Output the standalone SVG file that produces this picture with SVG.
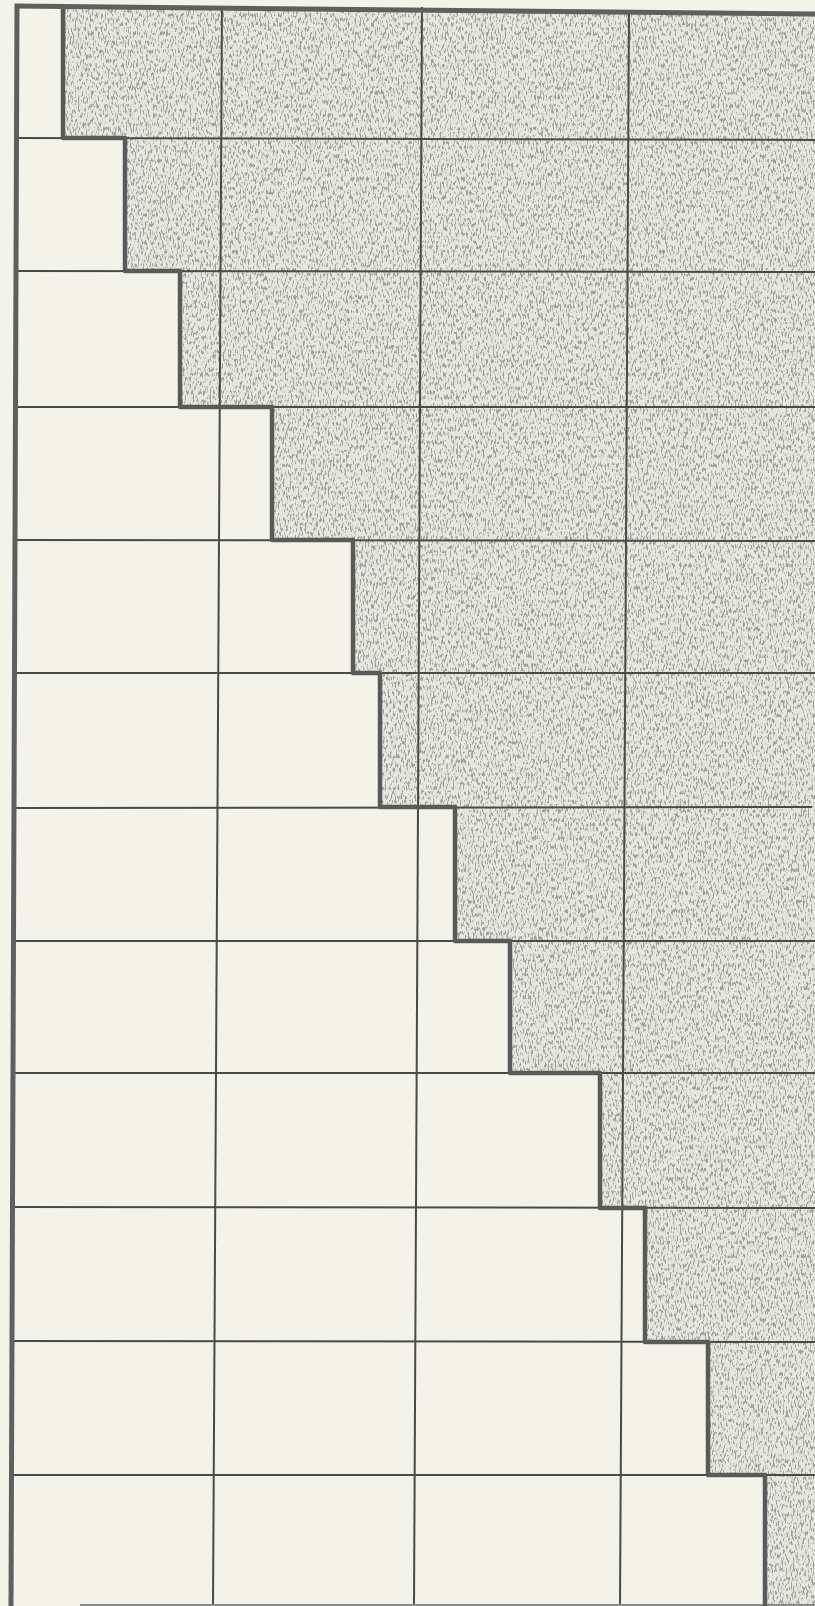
<svg xmlns="http://www.w3.org/2000/svg" width="815" height="1606" viewBox="0 0 815 1606">
  <defs>
    <style>
      .grid { stroke: #4a4a48; stroke-width: 2; fill: none; }
      .heavy { stroke: #5a5a58; stroke-width: 4.5; fill: none; stroke-linejoin: round; }
      .border { stroke: #5f5f5d; stroke-width: 5; fill: none; }
    </style>
    <filter id="speck" x="0" y="0" width="100%" height="100%" filterUnits="userSpaceOnUse">
      <feTurbulence type="fractalNoise" baseFrequency="0.6 0.22" numOctaves="2" seed="7" result="n"/>
      <feColorMatrix in="n" type="matrix" values="0 0 0 0 0.35  0 0 0 0 0.35  0 0 0 0 0.33  7 0 0 0 -3.6"/>
    </filter>
    <clipPath id="shadeClip">
      <path d="M63,6 V138 H125 V271 H180 V407 H272 V540 H353 V673 H380 V807 H455 V941 H510 V1073 H600 V1208 H645 V1342 H708 V1475 H765 V1606 H815 V15 Z"/>
    </clipPath>
  </defs>
  <rect width="815" height="1606" fill="#f4f3ea"/>

  <g id="shaded-region">
    <path d="M63,6 V138 H125 V271 H180 V407 H272 V540 H353 V673 H380 V807 H455 V941 H510 V1073 H600 V1208 H645 V1342 H708 V1475 H765 V1606 H815 V15 Z" fill="#e8e7df"/>
    <g clip-path="url(#shadeClip)">
      <rect x="0" y="0" width="815" height="1606" filter="url(#speck)"/>
    </g>
  </g>

  <g id="grid">
    <line class="grid" x1="17" y1="138" x2="815" y2="140"/>
    <line class="grid" x1="17" y1="271" x2="815" y2="272"/>
    <line class="grid" x1="16" y1="407" x2="815" y2="407"/>
    <line class="grid" x1="16" y1="540" x2="815" y2="541"/>
    <line class="grid" x1="15" y1="673" x2="815" y2="673"/>
    <line class="grid" x1="15" y1="808" x2="812" y2="807"/>
    <line class="grid" x1="14" y1="941" x2="815" y2="941"/>
    <line class="grid" x1="14" y1="1073" x2="815" y2="1073"/>
    <line class="grid" x1="13" y1="1207" x2="815" y2="1208"/>
    <line class="grid" x1="12" y1="1341" x2="815" y2="1342"/>
    <line class="grid" x1="12" y1="1475" x2="815" y2="1475"/>
    <line class="grid" x1="222" y1="6" x2="213" y2="1606"/>
    <line class="grid" x1="422" y1="7" x2="414" y2="1606"/>
    <line class="grid" x1="629" y1="10" x2="620" y2="1606"/>
    <line x1="80" y1="1605" x2="815" y2="1605" stroke="#8a8a86" stroke-width="2"/>
  </g>

  <g id="stair-boundary">
    <path class="heavy" d="M63,6 V138 H125 V271 H180 V407 H272 V540 H353 V673 H380 V807 H455 V941 H510 V1073 H600 V1208 H645 V1342 H708 V1475 H765 V1606"/>
  </g>

  <g id="frame">
    <line class="border" x1="15" y1="6" x2="815" y2="14"/>
    <line class="border" x1="17" y1="4" x2="11" y2="1606"/>
  </g>
</svg>
